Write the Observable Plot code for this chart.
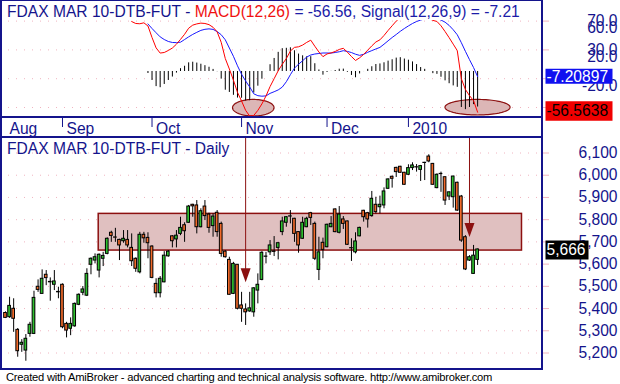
<!DOCTYPE html>
<html><head><meta charset="utf-8">
<script src="https://cdn.jsdelivr.net/npm/d3@7"></script>
<script src="https://cdn.jsdelivr.net/npm/@observablehq/plot@0.6"></script>
<style>
html,body{margin:0;padding:0;background:#fff;}
#chart{position:relative;width:620px;height:384px;overflow:hidden;font-family:"Liberation Sans",Arial,sans-serif;background:#fff;}
.pane{position:absolute;left:0;width:620px;}
.pane svg{display:block;}
.frame{position:absolute;left:0;top:0;width:539px;height:367px;border-left:2px solid #14148c;border-right:2px solid #14148c;border-top:1px solid #14148c;border-bottom:2px solid #14148c;}
.stripbox{position:absolute;left:0;top:116px;width:543px;height:18px;border-top:2px solid #14148c;border-bottom:2px solid #14148c;}
.title{position:absolute;left:7px;font-size:15.6px;line-height:1;white-space:nowrap;color:#14148c;}
.caption{position:absolute;left:6px;top:372px;font-size:11.2px;letter-spacing:-0.25px;line-height:1;white-space:nowrap;color:#000;}
</style>
</head><body>
<div id="chart">
  <div id="macd" class="pane" style="top:0px"></div>
  <div id="strip" class="pane" style="top:117px"></div>
  <div id="price" class="pane" style="top:137px"></div>
  <div class="frame"></div>
  <div class="stripbox"></div>
  <div class="title" style="top:4px"><span>FDAX MAR 10-DTB-FUT - </span><span style="color:#f01010">MACD(12,26)</span><span style="color:#1c1ca8"> = -56.56, Signal(12,26,9) = -7.21</span></div>
  <div class="title" style="top:141px">FDAX MAR 10-DTB-FUT - Daily</div>
  <div class="caption">Created with AmiBroker - advanced charting and technical analysis software. http://www.amibroker.com</div>
</div>
<script>
// ---------------- data ----------------
const monthLabels = ["Aug","Sep","Oct","Nov","Dec","2010"];
const monthBars   = [1, 15, 37, 59, 80, 100];

const opens = [5380,5361,5399,5304,5237,5211,5286,5286,5498,5466,5552,5520,5507,5475,5507,5331,5309,5320,5417,5471,
5458,5597,5616,5571,5624,5646,5741,5720,5709,5703,5709,5673,5624,5563,5732,5718,5679,5511,5469,5518,
5635,5725,5711,5736,5775,5786,5867,5864,5766,5859,5823,5771,5831,5781,5656,5619,5466,5597,5414,5396,
5387,5383,5481,5529,5633,5653,5657,5673,5744,5786,5814,5804,5744,5714,5766,5829,5781,5574,5696,5676,
5766,5846,5741,5801,5792,5672,5653,5725,5840,5829,5816,5867,5856,5864,5939,5993,6033,6038,6011,6002,
6032,6036,6024,6056,6084,6051,5942,6006,5991,5904,5901,5966,5904,5721,5616,5556,5619];
const highs = [5385,5451,5444,5310,5260,5283,5338,5478,5529,5574,5571,5538,5571,5496,5511,5338,5358,5425,5466,5499,
5579,5628,5646,5646,5653,5718,5748,5761,5712,5751,5751,5736,5628,5743,5743,5741,5683,5534,5544,5656,
5661,5728,5751,5811,5786,5864,5869,5886,5849,5886,5829,5826,5841,5789,5661,5631,5608,5598,5473,5421,
5473,5494,5556,5656,5653,5706,5724,5698,5811,5814,5841,5806,5746,5811,5811,5833,5789,5721,5717,5780,
5814,5849,5859,5814,5794,5714,5741,5766,5842,5833,5927,5901,5906,5943,5984,5996,6036,6040,6013,6047,
6056,6048,6044,6058,6092,6053,6006,6014,5993,5925,5996,5969,5909,5728,5638,5684,5668];
const lows = [5355,5356,5293,5181,5203,5163,5271,5283,5473,5466,5503,5433,5481,5444,5309,5268,5278,5316,5413,5458,
5454,5552,5601,5538,5589,5642,5698,5698,5616,5694,5673,5589,5563,5556,5694,5624,5534,5448,5448,5516,
5631,5673,5673,5728,5698,5784,5811,5736,5763,5796,5739,5721,5721,5631,5627,5460,5463,5394,5338,5324,
5383,5361,5421,5525,5601,5639,5634,5619,5728,5766,5781,5698,5649,5712,5764,5774,5616,5526,5624,5673,
5764,5741,5736,5756,5684,5612,5646,5723,5789,5762,5811,5826,5826,5849,5936,5942,5990,6009,5955,5999,
6021,6014,5972,5976,6056,5955,5939,5923,5864,5886,5852,5837,5698,5571,5612,5554,5594];
const closes = [5358,5412,5354,5208,5246,5264,5327,5448,5484,5534,5537,5518,5522,5473,5316,5301,5331,5421,5462,5486,
5556,5624,5631,5642,5637,5714,5727,5719,5684,5714,5684,5613,5579,5732,5716,5694,5538,5469,5534,5638,
5656,5703,5728,5763,5748,5859,5860,5766,5838,5816,5763,5814,5744,5646,5631,5462,5601,5399,5399,5383,
5401,5491,5507,5651,5634,5684,5655,5694,5792,5811,5815,5736,5684,5786,5804,5808,5624,5653,5664,5777,
5781,5744,5823,5781,5687,5671,5702,5763,5811,5801,5894,5834,5867,5927,5981,5984,6014,6011,5957,6032,
6044,6035,6041,6055,6062,5957,6002,6005,5886,5923,5994,5841,5706,5576,5631,5638,5666];

const macdStartBar = 32;
const macdValues = [69.4,66.7,66.3,67.6,63.2,47.2,32.8,25.6,26.4,29.2,
32.6,37.9,44.6,51.7,60.1,64.4,66.1,67.2,66.7,65.1,
61.4,55.1,40.5,18,3.5,-12,-29,-41,-54,-62,
-61,-54,-45,-34,-21,-10,1,10,18,28.5,
33.5,34.3,36.7,40.4,43.5,35.1,27.1,20.6,24.4,25.8,
27.8,30.6,32.2,26.8,20.8,15.3,19.0,23.8,29.7,35.6,
41,44,50,57,63.5,70,75,77,79,80,
79,77,76,74,71,69.5,63.5,55.5,47,38,
29,-10,-25,-33.5,-40.5,-56.56];
const signalStartBar = 36;
const signalValues = [66.0,59.7,53.8,48.1,44.4,41.7,40.3,40.1,40.7,44.4,
48.1,51.5,54.4,57.1,58.6,59.2,58.5,55.4,51.1,44.0,
32.6,21.1,7.9,-3.9,-13.2,-21.5,-31.0,-33.6,-34.3,-33.9,
-30.4,-28.1,-25.6,-21.7,-14.2,-4.4,4.7,10.1,14.9,20.1,
22.9,24.3,25.0,25.7,25.7,25.6,26.4,27.4,28.9,27.9,
26.3,24.0,22.4,23.9,26.7,29.0,31.3,33.5,37.9,42.6,
47.2,51.4,55.8,59.7,63.3,66.7,69.4,71.5,73,74,
74,73.5,71.5,68.5,64,58,51,40,28,16.5,
5.5,-7.21];

const priceTicks = [5200,5300,5400,5500,5600,5700,5800,5900,6000,6100];
const macdGridTicks = [70,30,-10,-50];
const macdLabelTicks = [70,60,30,20,-20];

// annotations
const zoneBars = [23.9, 127.9];
const zonePrices = [5661, 5826];
const arrowBars = [60, 115];
const arrowPrices = [5550, 5753];
const ellipseBars = [62, 117.1];
const ellipseValues = [-51, -50.3];
const ellipseHalfWidthBars = [5.1, 8.0];
const ellipseHalfHeightValues = [11.5, 10.8];

// ---------------- styles ----------------
const navy = "#14148c", pink = "#f0b4c0", darkRed = "#8c1010";
const upFill = "#2fc02f", downFill = "#f26a2a";
const xDomain = [-0.23, 132.94];
const fontStyle = {fontFamily: "'Liberation Sans', Arial, sans-serif", fontSize: "15.6px", background: "transparent", overflow: "visible"};

const candles = opens.map((o, i) => ({bar: i + 1, o, h: highs[i], l: lows[i], c: closes[i]}));
const ups = candles.filter(d => d.c >= d.o), downs = candles.filter(d => d.c < d.o);
const macd = macdValues.map((v, i) => ({bar: macdStartBar + i, v}));
const signal = signalValues.map((v, i) => ({bar: signalStartBar + i, v}));
const macdByBar = new Map(macd.map(d => [d.bar, d.v]));
const hist = signal.map(d => ({bar: d.bar, v: macdByBar.get(d.bar) - d.v}));
const lastMacd = macdValues[macdValues.length - 1];
const lastSignal = signalValues[signalValues.length - 1];
const lastClose = closes[closes.length - 1];

const ellipses = [];
ellipseBars.forEach((cx, k) => {
  const rx = ellipseHalfWidthBars[k], ry = ellipseHalfHeightValues[k], cy = ellipseValues[k];
  d3.range(0, 49).forEach(j => {
    const t = Math.PI - j * Math.PI / 48;
    ellipses.push({id: k, x: cx + rx * Math.cos(t), y1: cy - ry * Math.sin(t), y2: cy + ry * Math.sin(t)});
  });
});

const box = (x, y, w, h) => ({draw(ctx) { ctx.rect(x, y, w, h); }});
const downArrow = {draw(ctx) { ctx.moveTo(-5, -7); ctx.lineTo(5, -7); ctx.lineTo(0, 7); ctx.closePath(); }};

// ---------------- MACD pane ----------------
const macdPlot = Plot.plot({
  width: 620, height: 117,
  marginLeft: 0, marginRight: 78, marginTop: 20, marginBottom: 0,
  style: fontStyle,
  x: {domain: xDomain, axis: null},
  y: {domain: [-63.9, 70.83]},
  marks: [
    Plot.ruleY(macdGridTicks, {stroke: pink, strokeDasharray: "1,7"}),
    Plot.axisY({ticks: macdGridTicks, anchor: "right", tickSize: 6, stroke: pink, tickFormat: () => ""}),
    Plot.axisY({ticks: macdLabelTicks, anchor: "right", tickSize: 0, tickPadding: 0, dx: 75, textAnchor: "end", fill: navy, tickFormat: d => d.toFixed(1)}),
    Plot.areaY(ellipses, {x: "x", y1: "y1", y2: "y2", z: "id", fill: "#dcb6b6", stroke: darkRed, strokeWidth: 1.2}),
    Plot.ruleX(hist, {x: "bar", y1: 0, y2: "v", stroke: "black", strokeWidth: 1}),
    Plot.line(signal, {x: "bar", y: "v", stroke: "#1818ff", strokeWidth: 1, clip: true}),
    Plot.line(macd, {x: "bar", y: "v", stroke: "#ff0000", strokeWidth: 1, clip: true}),
    Plot.dot([lastSignal], {y: d => d, frameAnchor: "right", symbol: box(3, -8, 67, 15), fill: "#1010f0", stroke: "none"}),
    Plot.text([lastSignal], {y: d => d, frameAnchor: "right", dx: 4, textAnchor: "start", fill: "white", text: () => "-7.20897"}),
    Plot.dot([lastMacd], {y: d => d, frameAnchor: "right", symbol: box(3, -11, 67, 19.5), fill: "#f00000", stroke: "none"}),
    Plot.text([lastMacd], {y: d => d, frameAnchor: "right", dx: 4, dy: -1, textAnchor: "start", fill: "black", text: () => "-56.5638"})
  ]
});
document.getElementById("macd").append(macdPlot);

// ---------------- date strip ----------------
const months = monthLabels.map((m, i) => ({m, bar: monthBars[i]}));
const stripPlot = Plot.plot({
  width: 620, height: 20,
  marginLeft: 0, marginRight: 78, marginTop: 0, marginBottom: 10,
  style: fontStyle,
  x: {domain: xDomain, axis: null},
  marks: [
    Plot.tickX(months.slice(1), {x: "bar", stroke: navy, strokeWidth: 1}),
    Plot.text(months, {x: "bar", text: "m", frameAnchor: "bottom", dx: 4, dy: 6, textAnchor: "start", lineAnchor: "bottom", fill: navy})
  ]
});
document.getElementById("strip").append(stripPlot);

// ---------------- price pane ----------------
const yTop = 6169.75;
const arrows = arrowBars.map((b, i) => ({bar: b, p: arrowPrices[i]}));
const pricePlot = Plot.plot({
  width: 620, height: 233,
  marginLeft: 0, marginRight: 78, marginTop: 0, marginBottom: 0,
  style: fontStyle,
  x: {domain: xDomain, axis: null},
  y: {domain: [5121.25, yTop]},
  marks: [
    Plot.ruleY(priceTicks, {stroke: pink, strokeDasharray: "1,7"}),
    Plot.axisY({ticks: priceTicks, anchor: "right", tickSize: 6, stroke: pink, tickFormat: () => ""}),
    Plot.axisY({ticks: priceTicks, anchor: "right", tickSize: 0, tickPadding: 0, dx: 75, textAnchor: "end", fill: navy, tickFormat: d3.format(",")}),
    Plot.rect([0], {x1: () => zoneBars[0], x2: () => zoneBars[1], y1: () => zonePrices[0], y2: () => zonePrices[1], fill: "#e0c0c0", stroke: darkRed, strokeWidth: 1.5}),
    Plot.ruleX(candles, {x: "bar", y1: "l", y2: "h", stroke: "black", strokeWidth: 1}),
    Plot.rect(ups, {x1: d => d.bar - 0.33, x2: d => d.bar + 0.33, y1: "o", y2: "c", fill: upFill, stroke: "black", strokeWidth: 1}),
    Plot.rect(downs, {x1: d => d.bar - 0.33, x2: d => d.bar + 0.33, y1: "o", y2: "c", fill: downFill, stroke: "black", strokeWidth: 1}),
    Plot.ruleX(arrows, {x: "bar", y1: yTop, y2: "p", stroke: darkRed, strokeWidth: 1}),
    Plot.dot(arrows, {x: "bar", y: "p", symbol: downArrow, fill: darkRed, stroke: "none"}),
    Plot.dot([lastClose], {y: d => d, frameAnchor: "right", symbol: box(3, -9, 43, 19), fill: "black", stroke: "none"}),
    Plot.text([lastClose], {y: d => d, frameAnchor: "right", dx: 4, dy: 1, textAnchor: "start", fill: "white", text: d => d3.format(",")(d)})
  ]
});
document.getElementById("price").append(pricePlot);
</script>
</body></html>
